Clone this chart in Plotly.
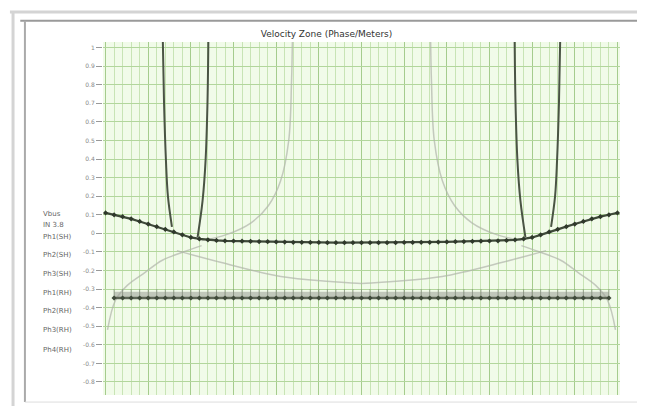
import plotly.graph_objects as go

# ---------------- data ----------------
title_text = "Velocity Zone (Phase/Meters)"
legend_labels = ["Vbus", "IN 3.8", "Ph1(SH)", "Ph2(SH)", "Ph3(SH)",
                 "Ph1(RH)", "Ph2(RH)", "Ph3(RH)", "Ph4(RH)"]
legend_y = [0.513, 0.482, 0.448, 0.397, 0.343, 0.289, 0.238, 0.184, 0.127]

y_tick_vals = [1.0, 0.9, 0.8, 0.7, 0.6, 0.5, 0.4, 0.3, 0.2, 0.1, 0.0,
               -0.1, -0.2, -0.3, -0.4, -0.5, -0.6, -0.7, -0.8]
y_tick_text = ["1", "0.9", "0.8", "0.7", "0.6", "0.5", "0.4", "0.3", "0.2", "0.1", "0",
               "-0.1", "-0.2", "-0.3", "-0.4", "-0.5", "-0.6", "-0.7", "-0.8"]

# main bowl curve with markers
bowl_x = list(range(0, 61))
bowl_y = [0.110, 0.100, 0.090, 0.078, 0.064, 0.050, 0.036, 0.022, 0.008, -0.008,
          -0.022, -0.030, -0.035, -0.038, -0.040, -0.041, -0.042, -0.043, -0.044, -0.045,
          -0.046, -0.047, -0.048, -0.048, -0.049, -0.049, -0.050, -0.050, -0.050, -0.050,
          -0.050, -0.050, -0.050, -0.050, -0.050, -0.049, -0.049, -0.048, -0.048, -0.047,
          -0.046, -0.045, -0.044, -0.043, -0.042, -0.041, -0.040, -0.038, -0.035, -0.030,
          -0.022, -0.008, 0.008, 0.022, 0.036, 0.050, 0.064, 0.078, 0.090, 0.100, 0.110]

# flat marker bands
band_x = list(range(1, 60))
band_dark_y = [-0.348] * 59
band_light_y = [-0.330] * 59

# dark near-vertical spikes
spike_a_x = [6.67, 6.85, 7.08, 7.31, 7.78]
spike_a_y = [1.14, 0.71, 0.39, 0.20, 0.035]
spike_b_x = [12.07, 11.95, 11.72, 11.37, 10.79]
spike_b_y = [1.14, 0.71, 0.39, 0.175, -0.02]
spike_c_x = [47.93, 48.05, 48.28, 48.63, 49.21]
spike_c_y = [1.14, 0.71, 0.39, 0.175, -0.02]
spike_d_x = [53.33, 53.15, 52.92, 52.69, 52.22]
spike_d_y = [1.14, 0.71, 0.39, 0.20, 0.035]

# light hyperbola-like curves from the top
hyp_l_x = [21.93, 21.80, 21.47, 20.50, 19.10, 17.06, 14.16, 11.26]
hyp_l_y = [1.14, 0.82, 0.50, 0.28, 0.15, 0.057, -0.007, -0.039]
hyp_r_x = [38.07, 38.20, 38.53, 39.50, 40.90, 42.94, 45.84, 48.74]
hyp_r_y = [1.14, 0.82, 0.50, 0.28, 0.15, 0.057, -0.007, -0.039]

# light curves rising from the lower corners
low_l_x = [0.23, 1.16, 2.55, 4.64, 6.60, 8.94, 11.26]
low_l_y = [-0.52, -0.36, -0.28, -0.21, -0.146, -0.103, -0.066]
low_r_x = [59.77, 58.84, 57.45, 55.36, 53.40, 51.06, 48.74]
low_r_y = [-0.52, -0.36, -0.28, -0.21, -0.146, -0.103, -0.066]

# light sagging arc under the bowl
arc_x = [8.36, 13.58, 20.54, 26.34, 30.0, 33.66, 39.46, 46.42, 51.64]
arc_y = [-0.093, -0.157, -0.232, -0.259, -0.27, -0.259, -0.232, -0.157, -0.093]

# ---------------- figure ----------------
fig = go.Figure()

light = "rgba(175,180,170,0.7)"
dark = "#4a5444"

for xs, ys in [(hyp_l_x, hyp_l_y), (hyp_r_x, hyp_r_y), (low_l_x, low_l_y),
               (low_r_x, low_r_y), (arc_x, arc_y)]:
    fig.add_trace(go.Scatter(x=xs, y=ys, mode="lines",
                             line=dict(color=light, width=1.5, shape="spline"),
                             showlegend=False, hoverinfo="skip"))

fig.add_trace(go.Scatter(x=band_x, y=band_light_y, mode="lines+markers",
                         line=dict(color="rgba(160,165,155,0.6)", width=6),
                         marker=dict(symbol="line-ns", size=8,
                                     line=dict(color="rgba(130,135,125,0.7)", width=1)),
                         showlegend=False, hoverinfo="skip"))
fig.add_trace(go.Scatter(x=band_x, y=band_dark_y, mode="lines+markers",
                         line=dict(color="#5d6656", width=2.5),
                         marker=dict(symbol="diamond", size=4, color="#3f4a3a"),
                         showlegend=False, hoverinfo="skip"))

for xs, ys in [(spike_a_x, spike_a_y), (spike_b_x, spike_b_y),
               (spike_c_x, spike_c_y), (spike_d_x, spike_d_y)]:
    fig.add_trace(go.Scatter(x=xs, y=ys, mode="lines",
                             line=dict(color=dark, width=2, shape="spline"),
                             showlegend=False, hoverinfo="skip"))

fig.add_trace(go.Scatter(x=bowl_x, y=bowl_y, mode="lines+markers",
                         line=dict(color="#3f4a3a", width=2.2),
                         marker=dict(symbol="diamond", size=4, color="#2f382b"),
                         showlegend=False, hoverinfo="skip"))

# legend-like labels on the left
for lab, yy in zip(legend_labels, legend_y):
    fig.add_annotation(text=lab, xref="paper", yref="paper", x=-0.12, y=yy,
                       xanchor="left", yanchor="middle", showarrow=False,
                       font=dict(size=7, color="#666666", family="DejaVu Sans"))

# window frame
frame_shapes = [
    dict(type="line", xref="paper", yref="paper", x0=-0.18, x1=1.06, y0=1.085, y1=1.085,
         line=dict(color="#d4d4d4", width=3)),
    dict(type="line", xref="paper", yref="paper", x0=-0.16, x1=1.06, y0=1.06, y1=1.06,
         line=dict(color="#9a9a9a", width=2)),
    dict(type="line", xref="paper", yref="paper", x0=-0.174, x1=-0.174, y0=-0.04, y1=1.085,
         line=dict(color="#d4d4d4", width=3)),
    dict(type="line", xref="paper", yref="paper", x0=-0.151, x1=-0.151, y0=-0.02, y1=1.06,
         line=dict(color="#aaaaaa", width=2)),
    dict(type="line", xref="paper", yref="paper", x0=1.043, x1=1.043, y0=-0.02, y1=1.06,
         line=dict(color="#cccccc", width=2)),
    dict(type="line", xref="paper", yref="paper", x0=-0.151, x1=1.043, y0=-0.02, y1=-0.02,
         line=dict(color="#dddddd", width=1)),
]

fig.update_layout(
    width=637, height=398,
    margin=dict(l=95, r=25, t=34, b=11),
    paper_bgcolor="white",
    plot_bgcolor="#f1fbe9",
    shapes=frame_shapes,
    title=dict(text=title_text, x=0.5, xanchor="center", y=0.935, yanchor="middle",
               font=dict(size=9, color="#333333", family="DejaVu Sans")),
    showlegend=False,
)

fig.update_xaxes(range=[-0.3, 60.3], showticklabels=False, ticks="",
                 showgrid=True, gridcolor="#a5cc8d", gridwidth=1, dtick=5, tick0=0,
                 minor=dict(showgrid=True, dtick=1, gridcolor="#c8e4b5", gridwidth=1),
                 zeroline=False, showline=False)
fig.update_yaxes(range=[-0.87, 1.03], tickvals=y_tick_vals, ticktext=y_tick_text,
                 ticks="outside", ticklen=6, tickcolor="#999999",
                 tickfont=dict(size=6, color="#888888", family="DejaVu Sans"),
                 showgrid=True, gridcolor="#b2d69c", gridwidth=1,
                 zeroline=False, showline=False)

fig.write_html("out.html")
